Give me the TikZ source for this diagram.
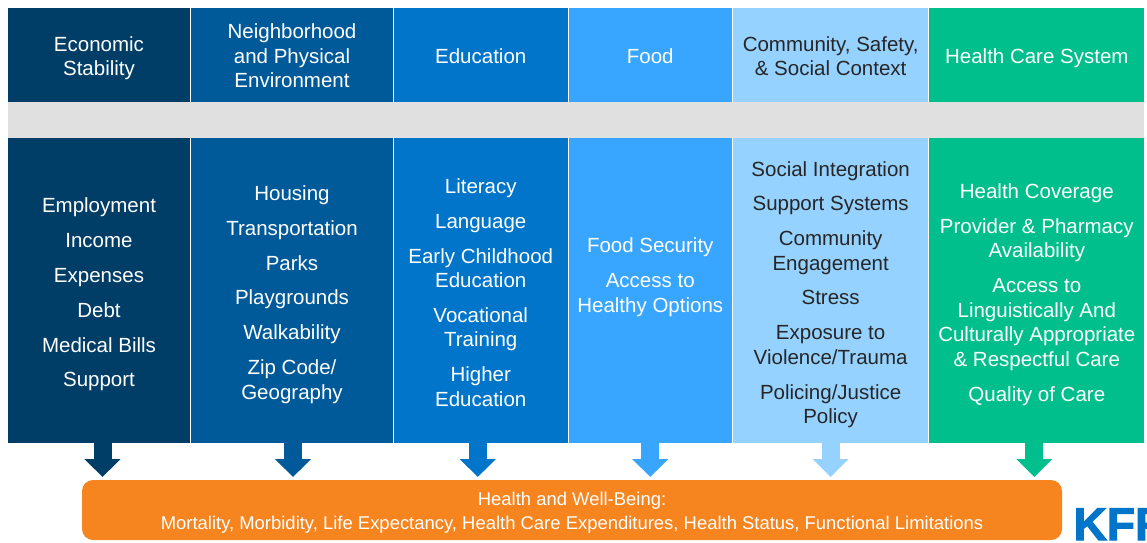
\documentclass[tikz,border=0pt]{standalone}
\usepackage{fontspec}
\setmainfont{Liberation Sans}
\newfontfamily\kfffont{Liberation Sans Bold}[FakeBold=2.5]
\usetikzlibrary{arrows.meta, positioning}
\definecolor{ecoblue}{HTML}{003E68}
\definecolor{nbhblue}{HTML}{005A9A}
\definecolor{edublue}{HTML}{0075C9}
\definecolor{foodblue}{HTML}{38A5FF}
\definecolor{commblue}{HTML}{96D2FF}
\definecolor{caregreen}{HTML}{00BF8C}
\definecolor{hworange}{HTML}{F68520}
\definecolor{bandgrey}{HTML}{E0E0E0}
\definecolor{kffblue}{HTML}{0075C9}
\newcommand{\itemgap}{10.3pt}
\newcommand{\firstline}[1][33.3pt]{\rule[-7.35pt]{0pt}{#1}}
\newcommand{\headline}{\firstline[31.3pt]}
\tikzstyle{head} = [rectangle, minimum height=94pt, inner sep=0pt, outer sep=0pt, align=center, font=\fontsize{20.5}{24.5}\selectfont, execute at end node=\strut]
\tikzstyle{body} = [head, minimum height=305pt]
\tikzstyle{flow} = [line width=18pt, -{Triangle[width=35pt,length=18pt]}, shorten >=3pt]

\begin{document}
\begin{tikzpicture}[x=1pt, y=-1pt]
    \useasboundingbox (0,0) rectangle (1147,542);
    % Band behind the columns
    \fill[bandgrey] (8,102) rectangle (1144.3,138);

    % Headings
    \node[head, fill=ecoblue, text=white, minimum width=182pt, anchor=north west] (ecoH) at (8,8) {\headline Economic\\Stability};
    \node[head, fill=nbhblue, text=white, minimum width=201.4pt, right=1.3pt of ecoH] (nbhH) {\headline Neighborhood\\and Physical\\Environment};
    \node[head, fill=edublue, text=white, minimum width=173.5pt, right=1.3pt of nbhH] (eduH) {\headline Education};
    \node[head, fill=foodblue, text=white, minimum width=162.5pt, right=1.5pt of eduH] (foodH) {\headline Food};
    \node[head, fill=commblue, text=black!85, minimum width=195.3pt, right=1.5pt of foodH] (commH) {\headline Community, Safety,\\\& Social Context};
    \node[head, fill=caregreen, text=white, minimum width=215pt, right=1pt of commH] (careH) {\headline Health Care System};

    % Columns
    \node[body, fill=ecoblue, text=white, minimum width=182pt, below=36pt of ecoH] (ecoB) {\firstline Employment\\[\itemgap]Income\\[\itemgap]Expenses\\[\itemgap]Debt\\[\itemgap]Medical Bills\\[\itemgap]Support};
    \node[body, fill=nbhblue, text=white, minimum width=201.4pt, below=36pt of nbhH] (nbhB) {\firstline Housing\\[\itemgap]Transportation\\[\itemgap]Parks\\[\itemgap]Playgrounds\\[\itemgap]Walkability\\[\itemgap]Zip Code/\\Geography};
    \node[body, fill=edublue, text=white, minimum width=173.5pt, below=36pt of eduH] (eduB) {\firstline Literacy\\[\itemgap]Language\\[\itemgap]Early Childhood\\Education\\[\itemgap]Vocational\\Training\\[\itemgap]Higher\\Education};
    \node[body, fill=foodblue, text=white, minimum width=162.5pt, below=36pt of foodH] (foodB) {\firstline Food Security\\[\itemgap]Access to\\Healthy Options\\[\itemgap]\strut};
    \node[body, fill=commblue, text=black!85, minimum width=195.3pt, below=36pt of commH] (commB) {\firstline Social Integration\\[\itemgap]Support Systems\\[\itemgap]Community\\Engagement\\[\itemgap]Stress\\[\itemgap]Exposure to\\Violence/Trauma\\[\itemgap]Policing/Justice\\Policy};
    \node[body, fill=caregreen, text=white, minimum width=215pt, below=36pt of careH] (careB) {\firstline Health Coverage\\[\itemgap]Provider \& Pharmacy\\Availability\\[\itemgap]Access to\\Linguistically And\\Culturally Appropriate\\\& Respectful Care\\[\itemgap]Quality of Care};

    % Outcome
    \node[rectangle, rounded corners=11pt, fill=hworange, text=white, minimum width=980pt, minimum height=60pt, inner sep=0pt, outer sep=0pt, align=center, anchor=north west, font=\fontsize{18.45}{24.5}\selectfont, execute at end node=\strut] (hw) at (82,480) {\firstline[29.3pt]Health and Well-Being:\\Mortality, Morbidity, Life Expectancy, Health Care Expenditures, Health Status, Functional Limitations};
    \node[anchor=base west, inner sep=0pt, text=kffblue, font=\fontsize{46}{46}\kfffont] (kff) at (1073.5,540) {KFF};

    % Arrows
    \draw[flow, ecoblue] ([xshift=3.5pt]ecoB.south) -- ([xshift=3.5pt]ecoB.south |- hw.north);
    \draw[flow, nbhblue] ([xshift=1pt]nbhB.south) -- ([xshift=1pt]nbhB.south |- hw.north);
    \draw[flow, edublue] ([xshift=-3pt]eduB.south) -- ([xshift=-3pt]eduB.south |- hw.north);
    \draw[flow, foodblue] (foodB.south) -- (foodB.south |- hw.north);
    \draw[flow, commblue] (commB.south) -- (commB.south |- hw.north);
    \draw[flow, caregreen] ([xshift=-2.5pt]careB.south) -- ([xshift=-2.5pt]careB.south |- hw.north);
\end{tikzpicture}
\end{document}
